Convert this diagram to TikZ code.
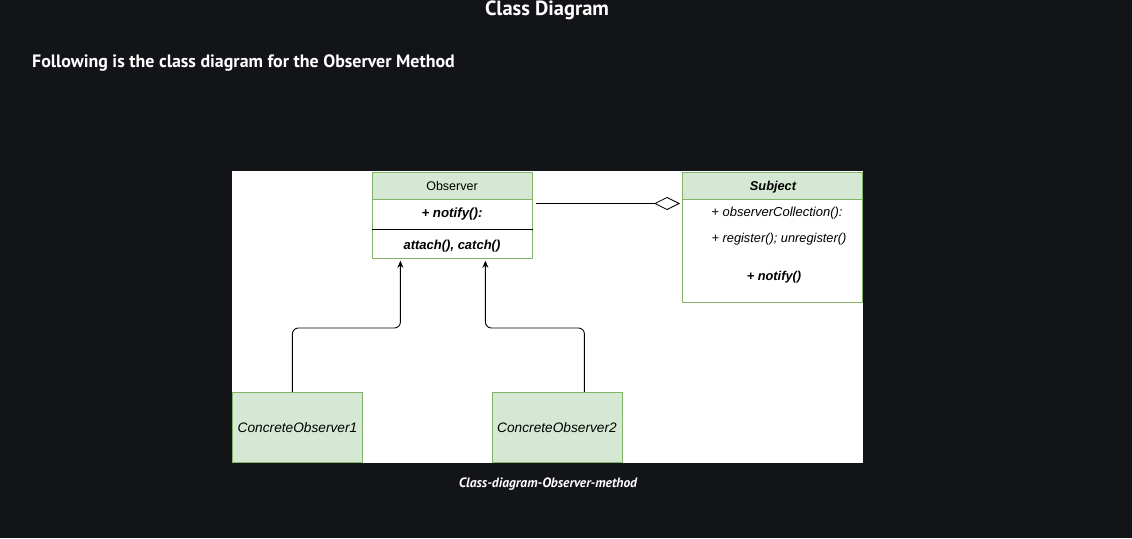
\documentclass[tikz,border=0pt]{standalone}
\usepackage{fontspec}
\setmainfont{Liberation Sans}
\newfontfamily\headfont{PT Sans}
\usetikzlibrary{arrows.meta,calc}
\definecolor{bg}{HTML}{131418}
\definecolor{umlfill}{HTML}{D5E8D4}
\definecolor{umlline}{HTML}{82B366}
\tikzset{
  cls/.style={draw=umlline, line width=0.8pt, anchor=north west, inner sep=0pt},
  head/.style={cls, fill=umlfill},
  txt/.style={inner sep=0pt, text=black, font=\fontsize{12.5}{14}\selectfont},
  itx/.style={txt, font=\fontsize{13.7}{15}\selectfont\itshape},
  bitx/.style={txt, font=\fontsize{13}{15}\selectfont\bfseries\itshape},
  conn/.style={draw=black, line width=0.9pt, rounded corners=6pt},
  inh/.style={conn, -{Stealth[length=7pt,width=6pt]}},
}
\begin{document}
\begin{tikzpicture}[x=1pt,y=-1pt]
\fill[bg] (0,0) rectangle (1132,538);
\useasboundingbox (0,0) rectangle (1132,538);
\fill[white] (232,171) rectangle (863,463);

\node[text=white, font=\headfont\bfseries\fontsize{20.5}{24}\selectfont] (title) at (547,10.5) {Class Diagram};
\node[anchor=west, text=white, font=\headfont\bfseries\fontsize{17.9}{21}\selectfont, inner sep=0pt] (sub) at (32,63) {Following is the class diagram for the Observer Method};
\node[text=white, font=\headfont\bfseries\itshape\fontsize{13.5}{16}\selectfont] (cap) at (548,484) {Class-diagram-Observer-method};

% Observer
\node[cls, minimum width=160pt, minimum height=86pt] (obs) at (372,172) {};
\node[head, minimum width=160pt, minimum height=27pt] (obshead) at (372,172) {};
\node[txt] (obsname) at (452,186.5) {Observer};
\node[bitx, font=\fontsize{13.3}{15}\selectfont\bfseries\itshape] (obsn) at (452,214.5) {+ notify():};
\draw[black, line width=0.9pt] (obs.west |- 0,229) -- (obs.east |- 0,229);
\node[bitx] (obsa) at (452,246) {attach(), catch()};

% Subject
\node[cls, minimum width=180pt, minimum height=130pt] (sbj) at (682,172) {};
\node[head, minimum width=180pt, minimum height=27pt] (sbjhead) at (682,172) {};
\node[bitx, font=\fontsize{12.8}{15}\selectfont\bfseries\itshape] (sbjname) at (773,187) {Subject};
\node[itx, font=\fontsize{13}{15}\selectfont\itshape] (sbj1) at (777,213) {+ observerCollection():};
\node[itx, font=\fontsize{12.8}{15}\selectfont\itshape] (sbj2) at (779,239) {+ register(); unregister()};
\node[bitx, font=\fontsize{12.8}{15}\selectfont\bfseries\itshape] (sbj3) at (774,277) {+ notify()};

% Concrete observers
\node[head, minimum width=130pt, minimum height=70pt] (co1) at (232,392) {};
\node[itx] (co1t) at (297.5,428) {ConcreteObserver1};
\node[head, minimum width=130pt, minimum height=70pt] (co2) at (492,392) {};
\node[itx] (co2t) at (557,428) {ConcreteObserver2};

% Connectors
\draw[inh] ([xshift=-5pt]co1.north) -- ++(0,-64) -| ([xshift=-52pt,yshift=-2pt]obs.south);
\draw[inh] ([xshift=27pt]co2.north) -- ++(0,-64) -| ([xshift=33pt,yshift=-2pt]obs.south);
\draw[black, line width=0.8pt, -{Diamond[open,length=26pt,width=13pt]}] ($(obs.north east)+(3,31.5)$) -- ($(sbj.north west)+(-2,31.5)$);
\end{tikzpicture}
\end{document}
